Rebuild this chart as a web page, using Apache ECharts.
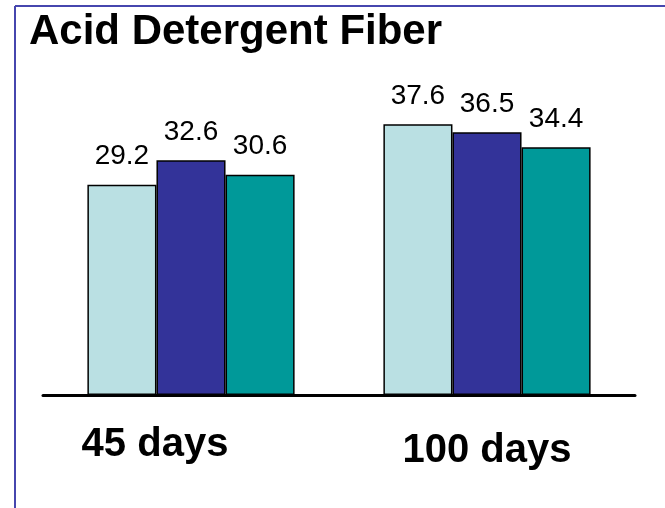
<!DOCTYPE html>
<html>
<head>
<meta charset="utf-8">
<script src="https://cdn.jsdelivr.net/npm/echarts@6/dist/echarts.min.js"></script>
<style>html,body{margin:0;padding:0;background:#fff;}#c{width:665px;height:508px;}</style>
</head>
<body>
<div id="c"></div>
<script>
const categories = ['45 days', '100 days'];
const seriesA = [29.2, 37.6];
const seriesB = [32.6, 36.5];
const seriesC = [30.6, 34.4];
const titleText = 'Acid Detergent Fiber';

const chart = echarts.init(document.getElementById('c'), null, {renderer: 'canvas'});
const font = '"Liberation Sans", Arial, sans-serif';
function barSeries(data, color) {
  return {
    type: 'bar', data: data, barGap: '0%', barCategoryGap: '30%',
    itemStyle: {color: color, borderColor: '#000', borderWidth: 1.5},
    label: {show: true, position: 'top', distance: 14, fontFamily: font, fontSize: 28, color: '#000'},
    animation: false
  };
}
chart.setOption({
  animation: false,
  backgroundColor: '#fff',
  title: {text: titleText, left: 29, top: 11, padding: 0,
    textStyle: {fontFamily: font, fontSize: 42, fontWeight: 'bold', color: '#000'}},
  grid: {left: 43, right: 30, top: 35, bottom: 113},
  xAxis: {type: 'category', data: categories,
    axisLine: {lineStyle: {color: '#000', width: 3}},
    axisTick: {show: false},
    axisLabel: {interval: 0, hideOverlap: false, margin: 30, fontFamily: font, fontSize: 40, fontWeight: 'bold', color: '#000',
      formatter: function (v, i) { return i === 0 ? '{a|' + v + '}' : '{b|' + v + '}'; },
      rich: {
        a: {fontFamily: font, fontSize: 40, fontWeight: 'bold', color: '#000', padding: [0, 72, 0, 0]},
        b: {fontFamily: font, fontSize: 40, fontWeight: 'bold', color: '#000', padding: [6, 0, 0, 0]}
      }}
  },
  yAxis: {type: 'value', min: 0, max: 50, show: false, splitLine: {show: false}},
  series: [barSeries(seriesA, '#BAE0E3'), barSeries(seriesB, '#333399'), barSeries(seriesC, '#009999')],
  graphic: [
    {type: 'line', shape: {x1: 15, y1: 6, x2: 665, y2: 6}, style: {stroke: '#4646AE', lineWidth: 2}},
    {type: 'line', shape: {x1: 15, y1: 6, x2: 15, y2: 508}, style: {stroke: '#4646AE', lineWidth: 2}}
  ]
});
</script>
</body>
</html>
